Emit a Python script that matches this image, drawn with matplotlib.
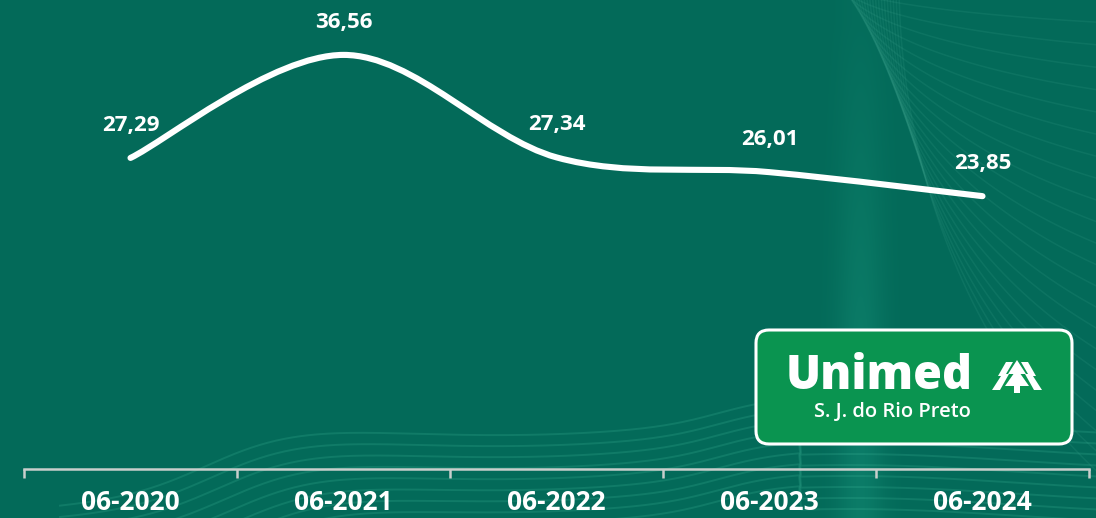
import numpy as np
import matplotlib
matplotlib.use("Agg")
import matplotlib.pyplot as plt
from matplotlib.path import Path
from matplotlib.patches import PathPatch, FancyBboxPatch, Polygon

# ---- data ----
categories = ["06-2020", "06-2021", "06-2022", "06-2023", "06-2024"]
values = [27.29, 36.56, 27.34, 26.01, 23.85]
value_labels = ["27,29", "36,56", "27,34", "26,01", "23,85"]

BG = "#036a59"
W, H = 1096, 518
fig = plt.figure(figsize=(W / 100, H / 100), dpi=100)
fig.patch.set_facecolor(BG)

# ---- decorative background (pixel-space overlay) ----
bg = fig.add_axes([0, 0, 1, 1])
bg.set_xlim(0, W)
bg.set_ylim(H, 0)
bg.axis("off")
xs = np.arange(W)
ys = np.arange(H)
prof = np.exp(-((xs - 860) / 24.0) ** 2)
vert = np.clip((ys + 60) / 420.0, 0.2, 1.0)
alpha = np.outer(vert, prof) * 0.38
img = np.zeros((H, W, 4))
img[..., 0] = 0.10
img[..., 1] = 0.60
img[..., 2] = 0.50
img[..., 3] = alpha
bg.imshow(img, extent=(0, W, H, 0), aspect="auto", zorder=0)
# fanning lines on the right
t = np.linspace(np.pi * 0.5, np.pi * 1.0, 400)
for k in range(22):
    cx, cy = 1400, -20
    rx = cx - (836 + 3 * k)
    ry = 50 + 27 * k
    bg.plot(cx + rx * np.cos(t), cy + ry * np.sin(t), color="#6fd3bb", alpha=0.09, lw=1.1, zorder=1)
# waves at the bottom
xw = np.linspace(60, 1096, 500)
for k in range(9):
    yw = 428 + 11 * k + 85 * (1 - 1 / (1 + np.exp(-(xw - 210 - 6 * k) / 45))) \
        + 7 * np.sin((xw - 330) / 110) - 25 / (1 + np.exp(-(xw - 720) / 30)) * (xw < 800)
    bg.plot(xw, yw, color="#3fb89a", alpha=0.22, lw=1.4, zorder=1)

# ---- main chart axes ----
left_px, right_px, axis_px = 24, 1089, 469
ax = fig.add_axes([left_px / W, 1 - axis_px / H, (right_px - left_px) / W, axis_px / H])
ax.set_facecolor("none")
ax.set_xlim(-0.5, len(categories) - 0.5)
ax.set_ylim(-0.7, 41.5)

x = np.arange(len(values), dtype=float)
y = np.array(values, dtype=float)

# Catmull-Rom smoothed line as cubic Bezier
P = np.column_stack([x, y])
Pext = np.vstack([P[0], P, P[-1]])
verts = [tuple(P[0])]
codes = [Path.MOVETO]
for i in range(len(P) - 1):
    p0, p1, p2, p3 = Pext[i], Pext[i + 1], Pext[i + 2], Pext[i + 3]
    c1 = p1 + (p2 - p0) / 6.0
    c2 = p2 - (p3 - p1) / 6.0
    verts += [tuple(c1), tuple(c2), tuple(p2)]
    codes += [Path.CURVE4] * 3
ax.add_patch(PathPatch(Path(verts, codes), facecolor="none", edgecolor="white",
                       lw=4.4, capstyle="round", joinstyle="round", zorder=5))

for xi, yi, lab in zip(x, y, value_labels):
    ax.annotate(lab, (xi, yi), xytext=(0, 23.5), textcoords="offset points",
                ha="center", va="center", color="white", fontsize=16,
                fontweight="bold", family="Open Sans", zorder=6)

# axis styling
for s in ["top", "right", "left"]:
    ax.spines[s].set_visible(False)
ax.spines["bottom"].set_color("#c9cfcc")
ax.spines["bottom"].set_linewidth(1.8)
ax.set_yticks([])
ax.set_xticks(np.arange(-0.5, len(categories), 1.0))
ax.set_xticklabels([])
ax.tick_params(axis="x", which="major", direction="out", length=6.5, width=1.8, color="#c9cfcc")
ax.set_xticks(x, minor=True)
ax.set_xticklabels(categories, minor=True)
ax.tick_params(axis="x", which="minor", length=0, pad=24, labelsize=19, labelcolor="white")
for lbl in ax.get_xticklabels(minor=True):
    lbl.set_fontweight("bold")
    lbl.set_family("Open Sans")
    lbl.set_va("center")

# ---- logo box ----
lg = fig.add_axes([0, 0, 1, 1])
lg.set_xlim(0, W)
lg.set_ylim(H, 0)
lg.axis("off")
lg.patch.set_alpha(0)
box = FancyBboxPatch((756, 330), 316, 114, boxstyle="round,pad=0,rounding_size=13",
                     facecolor="#0a9450", edgecolor="white", lw=2.2, zorder=10)
lg.add_patch(box)
lg.text(786, 377, "Unimed", color="white", fontsize=33.5, fontweight="heavy",
        family="Open Sans", ha="left", va="center", zorder=11)
lg.text(814, 412, "S. J. do Rio Preto", color="white", fontsize=14.5, fontweight="semibold",
        family="Open Sans", ha="left", va="center", zorder=11)
# stylised symbol (A with fir tree)
sym = [
    [(992, 390), (1001, 376), (998, 376), (1006, 362), (1013, 362), (1006, 374), (1009, 374), (1000, 390)],
    [(1042, 390), (1033, 376), (1036, 376), (1028, 362), (1021, 362), (1028, 374), (1025, 374), (1034, 390)],
    [(1017, 360), (1026, 374), (1008, 374)],
    [(1017, 369), (1029, 386), (1005, 386)],
    [(1014, 386), (1020, 386), (1020, 393), (1014, 393)],
]
for poly in sym:
    lg.add_patch(Polygon(poly, closed=True, facecolor="white", edgecolor="none", zorder=11))

fig.savefig("out.png", dpi=100, facecolor=BG)
